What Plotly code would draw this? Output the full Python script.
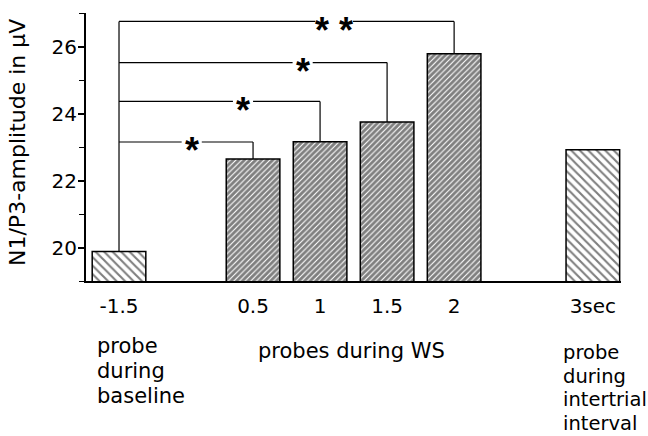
import plotly.graph_objects as go

# ---- data ----
categories = ["-1.5", "0.5", "1", "1.5", "2", "3sec"]
amplitude = [19.88, 22.64, 23.16, 23.75, 25.78, 22.92]
is_ws = [False, True, True, True, True, False]

# significance comparisons: baseline bar (index 0) vs bar index
comp_target = [1, 2, 3, 4]
comp_level = [23.15, 24.36, 25.52, 26.75]
comp_label = ["*", "*", "*", "* *"]

group_labels_left = ["probe", "during", "baseline"]
group_label_mid = "probes during WS"
group_labels_right = ["probe", "during", "intertrial", "interval"]

# ---- layout helpers ----
W, H = 648, 436
ML, MR, MT, MB = 86, 27, 13, 155
PW, PH = W - ML - MR, H - MT - MB
x_pos = [0, 2, 3, 4, 5, 7.07]
star_x = [1.085, 1.85, 2.74, 3.21]
star_gap = [0.15, 0.15, 0.15, 0.28]
XR = [-0.4925, 7.49]
YR = [19, 27]

def px(xp):
    return (xp - ML) / PW

def py(yp):
    return (H - MB - yp) / PH

FONT = "DejaVu Sans"
LW = 1.2

fig = go.Figure()

ws_x = [x for x, w in zip(x_pos, is_ws) if w]
ws_y = [v for v, w in zip(amplitude, is_ws) if w]
ot_x = [x for x, w in zip(x_pos, is_ws) if not w]
ot_y = [v for v, w in zip(amplitude, is_ws) if not w]

fig.add_trace(go.Bar(
    x=ot_x, y=ot_y, width=0.8,
    marker=dict(color="white", line=dict(color="black", width=1.5),
                pattern=dict(shape="\\", size=6, solidity=0.35,
                             fgcolor="black", bgcolor="white", fillmode="overlay")),
    hoverinfo="skip"))
fig.add_trace(go.Bar(
    x=ws_x, y=ws_y, width=0.8,
    marker=dict(color="white", line=dict(color="black", width=1.5),
                pattern=dict(shape="/", size=4, solidity=0.72,
                             fgcolor="black", bgcolor="white", fillmode="overlay")),
    hoverinfo="skip"))

shapes = []
shapes.append(dict(type="line", xref="x", yref="y", x0=x_pos[0], x1=x_pos[0],
                   y0=amplitude[0], y1=max(comp_level),
                   line=dict(color="black", width=LW)))
for t, lv, sx, g in zip(comp_target, comp_level, star_x, star_gap):
    shapes.append(dict(type="line", xref="x", yref="y", x0=x_pos[0], x1=sx - g,
                       y0=lv, y1=lv, line=dict(color="black", width=LW)))
    shapes.append(dict(type="line", xref="x", yref="y", x0=sx + g, x1=x_pos[t],
                       y0=lv, y1=lv, line=dict(color="black", width=LW)))
    shapes.append(dict(type="line", xref="x", yref="y", x0=x_pos[t], x1=x_pos[t],
                       y0=lv, y1=amplitude[t], line=dict(color="black", width=LW)))

annotations = []
for sx, lv, lab in zip(star_x, comp_level, comp_label):
    annotations.append(dict(x=sx, y=lv, xref="x", yref="y", text="<b>%s</b>" % lab,
                            showarrow=False, yshift=-9,
                            font=dict(family="Liberation Sans", size=36, color="black")))

# y-axis title
annotations.append(dict(x=px(17), y=py(143), xref="paper", yref="paper",
                        text="N1/P3-amplitude in μV", textangle=-90, showarrow=False,
                        xanchor="center", yanchor="middle",
                        font=dict(family=FONT, size=22, color="black")))

# group labels
for i, t in enumerate(group_labels_left):
    annotations.append(dict(x=px(95), y=py(360 + 25 * i), xref="paper", yref="paper",
                            text=t, showarrow=False, xanchor="left", yanchor="bottom",
                            font=dict(family=FONT, size=21, color="black")))
annotations.append(dict(x=px(256), y=py(365), xref="paper", yref="paper",
                        text=group_label_mid, showarrow=False, xanchor="left", yanchor="bottom",
                        font=dict(family=FONT, size=21, color="black")))
for i, t in enumerate(group_labels_right):
    annotations.append(dict(x=px(561), y=py(366 + 23.5 * i), xref="paper", yref="paper",
                            text=t, showarrow=False, xanchor="left", yanchor="bottom",
                            font=dict(family=FONT, size=19.5, color="black")))

fig.update_layout(
    width=W, height=H,
    margin=dict(l=ML, r=MR, t=MT, b=MB, pad=0),
    plot_bgcolor="white", paper_bgcolor="white",
    showlegend=False, barmode="overlay",
    shapes=shapes, annotations=annotations,
    font=dict(family=FONT, color="black"),
    xaxis=dict(range=XR, tickvals=x_pos, ticktext=categories, showgrid=False,
               zeroline=False, showline=True, linecolor="black", linewidth=2,
               ticks="", tickfont=dict(family=FONT, size=20, color="black"),
               ticklabelstandoff=6),
    yaxis=dict(range=YR, tickvals=[20, 22, 24, 26], showgrid=False, zeroline=False,
               showline=True, linecolor="black", linewidth=2,
               ticks="outside", ticklen=6, tickwidth=1.5, tickcolor="black",
               tickfont=dict(family=FONT, size=20, color="black"),
               ticklabelstandoff=-3,
               minor=dict(dtick=1, tick0=19, ticks="outside", ticklen=5,
                          tickwidth=1.2, tickcolor="black", showgrid=False)),
)

fig.write_html("out.html", config={"displayModeBar": False},
               post_script="document.body.style.margin='0px';")
